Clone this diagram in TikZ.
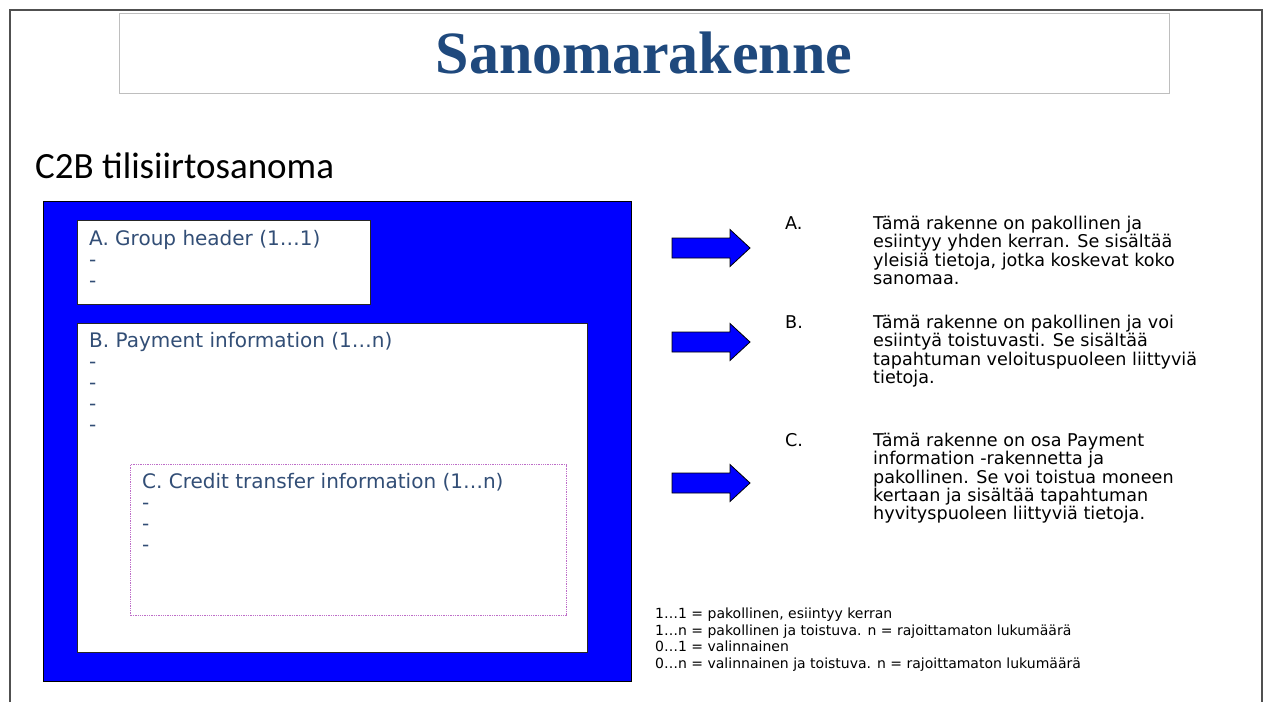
\documentclass[tikz,border=0pt]{standalone}
\usepackage{fontspec}
\usepackage{tikz}
\usetikzlibrary{positioning,calc}

\newfontfamily\titlefont{Liberation Serif}
\newfontfamily\headfont{Carlito}
\newfontfamily\partfont{DejaVu Sans}

\definecolor{msgblue}{RGB}{0,0,255}
\definecolor{titleblue}{RGB}{31,73,125}
\definecolor{parttext}{RGB}{50,78,118}
\definecolor{subviolet}{RGB}{190,110,200}
\definecolor{framegray}{RGB}{80,80,80}
\definecolor{titlegray}{RGB}{190,190,190}

\tikzset{
  frameline/.style={draw=framegray, line width=1.6pt},
  titlebox/.style={draw=titlegray, line width=0.7pt, fill=white,
    minimum width=1050pt, minimum height=80pt,
    font=\titlefont\bfseries\fontsize{60}{60}\selectfont, text=titleblue},
  msgbox/.style={draw=black, line width=1pt, fill=msgblue, anchor=north west, inner sep=0pt},
  partbox/.style={draw=black!85, line width=1pt, fill=white, anchor=north west, inner sep=0pt},
  subpart/.style={draw=subviolet, densely dotted, line width=1.3pt, fill=white, anchor=north west, inner sep=0pt},
  parttxt/.style={font=\partfont\fontsize{20}{21}\selectfont, text=parttext,
    align=left, anchor=north west, inner sep=0pt},
  desctxt/.style={font=\partfont\fontsize{17.6}{18.3}\selectfont,
    align=left, anchor=north west, inner sep=0pt},
  legendtxt/.style={font=\partfont\fontsize{14}{16.5}\selectfont,
    align=left, anchor=north west, inner sep=0pt},
  arrowfill/.style={draw=black, line width=0.8pt, fill=msgblue, line join=miter},
  pics/blockarrow/.style={code={
    \draw[arrowfill] (0,-10) -- (58,-10) -- (58,-18.5) -- (78,0)
      -- (58,18.5) -- (58,10) -- (0,10) -- cycle;
  }},
}

\begin{document}
\begin{tikzpicture}[x=1pt, y=-1pt]
\useasboundingbox (0,0) rectangle (1264,702);

% slide frame, open at the bottom
\draw[frameline] (10,702) -- (10,10) -- (1262,10) -- (1262,702);

% heading
\node[titlebox] (title) at (644,53) {Sanomarakenne};
\node[anchor=base west, inner sep=0pt, font=\headfont\fontsize{37}{37}\selectfont]
  (c2b) at (35,178) {C2B tilisiirtosanoma};

% --- message structure ---
\node[msgbox, minimum width=588pt, minimum height=480pt] (msg) at (43,201) {};
\node[partbox, minimum width=293pt, minimum height=84pt] (grpA) at (77,220) {};
\node[partbox, minimum width=510pt, minimum height=329pt] (pmtB) at (77,323) {};
\node[subpart, minimum width=436pt, minimum height=151pt] (cdtC) at (130,464) {};

\node[parttxt] (grpA-txt) at ([shift={(12pt,-10pt)}]grpA.north west)
  {A. Group header (1…1)\\-\\-};
\node[parttxt] (pmtB-txt) at ([shift={(12pt,-9pt)}]pmtB.north west)
  {B. Payment information (1…n)\\-\\-\\-\\-};
\node[parttxt] (cdtC-txt) at ([shift={(12pt,-9pt)}]cdtC.north west)
  {C. Credit transfer information (1…n)\\-\\-\\-};

% --- arrows and explanations ---
\pic (arrA) at (672,248) {blockarrow};
\pic (arrB) at (672,342) {blockarrow};
\pic (arrC) at (672,483) {blockarrow};

\node[desctxt] (letA) at (785,216) {A.};
\node[desctxt] (descA) at (873,216)
  {Tämä rakenne on pakollinen ja\\esiintyy yhden kerran. Se sisältää\\yleisiä tietoja, jotka koskevat koko\\sanomaa.};
\node[desctxt] (letB) at (785,315) {B.};
\node[desctxt] (descB) at (873,315)
  {Tämä rakenne on pakollinen ja voi\\esiintyä toistuvasti. Se sisältää\\tapahtuman veloituspuoleen liittyviä\\tietoja.};
\node[desctxt] (letC) at (785,433) {C.};
\node[desctxt] (descC) at (873,433)
  {Tämä rakenne on osa Payment\\information -rakennetta ja\\pakollinen. Se voi toistua moneen\\kertaan ja sisältää tapahtuman\\hyvityspuoleen liittyviä tietoja.};

% cardinality legend
\node[legendtxt] (legend) at (655,608)
  {1…1 = pakollinen, esiintyy kerran\\1…n = pakollinen ja toistuva. n = rajoittamaton lukumäärä\\0…1 = valinnainen\\0…n = valinnainen ja toistuva. n = rajoittamaton lukumäärä};

\end{tikzpicture}
\end{document}
